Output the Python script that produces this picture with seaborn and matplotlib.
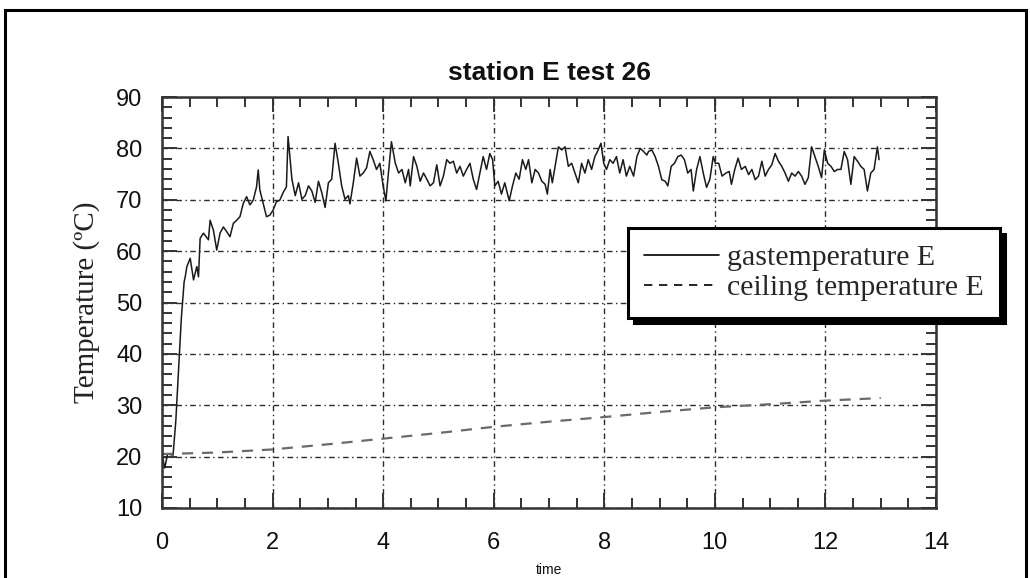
import numpy as np
import pandas as pd
import matplotlib
matplotlib.use("Agg")
import matplotlib.pyplot as plt
from matplotlib.patches import Rectangle
from matplotlib.ticker import MultipleLocator
import seaborn as sns

# Gas temperature at station E (time, degC)
gas_time = [
    0.00, 0.05, 0.10, 0.20, 0.25, 0.30, 0.35, 0.40, 0.42, 0.45, 0.51, 0.57, 0.63, 0.66,
    0.69, 0.75, 0.84, 0.87, 0.93, 0.99, 1.05, 1.11, 1.17, 1.23, 1.29, 1.35, 1.41, 1.47,
    1.53, 1.59, 1.65, 1.71, 1.74, 1.77, 1.83, 1.89, 1.95, 2.01, 2.07, 2.13, 2.20, 2.25,
    2.28, 2.35, 2.41, 2.47, 2.53, 2.59, 2.65, 2.71, 2.77, 2.83, 2.89, 2.95, 3.01, 3.07,
    3.13, 3.19, 3.25, 3.31, 3.37, 3.40, 3.46, 3.52, 3.58, 3.64, 3.70, 3.76, 3.82, 3.88,
    3.94, 4.00, 4.05, 4.09, 4.15, 4.22, 4.28, 4.34, 4.40, 4.46, 4.49, 4.55, 4.61, 4.67,
    4.73, 4.79, 4.85, 4.91, 4.97, 5.03, 5.09, 5.15, 5.21, 5.27, 5.33, 5.39, 5.45, 5.51,
    5.57, 5.63, 5.69, 5.75, 5.81, 5.87, 5.93, 5.98, 6.02, 6.08, 6.14, 6.20, 6.28, 6.34,
    6.40, 6.46, 6.52, 6.58, 6.63, 6.69, 6.75, 6.81, 6.87, 6.93, 6.97, 7.02, 7.06, 7.11,
    7.17, 7.23, 7.29, 7.35, 7.41, 7.47, 7.53, 7.59, 7.65, 7.71, 7.77, 7.83, 7.89, 7.94,
    7.99, 8.04, 8.10, 8.16, 8.22, 8.28, 8.34, 8.40, 8.46, 8.53, 8.59, 8.65, 8.71, 8.77,
    8.80, 8.86, 8.92, 8.98, 9.04, 9.10, 9.15, 9.21, 9.27, 9.33, 9.39, 9.45, 9.51, 9.57,
    9.61, 9.67, 9.73, 9.79, 9.85, 9.91, 9.97, 10.01, 10.07, 10.13, 10.20, 10.26, 10.30,
    10.36, 10.42, 10.48, 10.55, 10.61, 10.67, 10.73, 10.79, 10.85, 10.91, 10.97, 11.03,
    11.09, 11.15, 11.21, 11.27, 11.33, 11.39, 11.45, 11.51, 11.57, 11.63, 11.69, 11.75,
    11.81, 11.87, 11.93, 11.98, 12.04, 12.10, 12.16, 12.22, 12.28, 12.34, 12.40, 12.46,
    12.52, 12.58, 12.64, 12.70, 12.76, 12.82, 12.88, 12.94, 12.97,
]
gas_temp = [
    20.5, 17.8, 20.5, 20.3, 27.0, 37.0, 47.0, 54.0, 55.0, 57.0, 58.6, 54.4, 57.0, 55.0,
    62.5, 63.5, 62.2, 66.0, 64.1, 60.2, 63.5, 64.7, 63.8, 62.8, 65.4, 66.0, 66.7, 69.3,
    70.6, 69.0, 69.9, 72.5, 75.8, 71.9, 69.3, 66.7, 67.0, 68.0, 69.6, 69.9, 71.6, 72.5,
    82.3, 74.0, 70.8, 73.3, 70.1, 70.8, 72.7, 71.7, 69.5, 73.6, 71.4, 68.5, 73.3, 74.0,
    81.0, 77.1, 72.7, 70.1, 70.8, 69.2, 73.3, 78.1, 74.6, 75.2, 76.2, 79.4, 77.8, 75.9,
    77.1, 72.7, 69.8, 74.6, 81.3, 77.1, 75.2, 75.9, 73.3, 75.9, 72.7, 78.4, 76.5, 73.6,
    75.2, 74.0, 72.7, 73.3, 76.8, 72.7, 74.6, 77.8, 77.1, 77.5, 75.2, 76.5, 74.6, 75.9,
    77.1, 74.0, 72.0, 75.2, 78.4, 75.9, 79.0, 77.8, 72.7, 73.6, 71.1, 73.3, 69.8, 72.7,
    75.2, 74.0, 77.8, 75.9, 77.8, 73.3, 75.9, 75.2, 73.6, 73.0, 71.1, 75.9, 73.3, 76.5,
    80.3, 79.7, 80.3, 76.5, 77.1, 75.2, 73.3, 77.1, 75.2, 77.8, 75.9, 78.4, 79.7, 81.0,
    77.1, 75.9, 77.8, 77.1, 78.4, 75.2, 77.8, 74.6, 76.5, 74.6, 78.4, 80.0, 79.4, 78.7,
    79.4, 79.7, 78.4, 76.5, 73.9, 73.6, 72.7, 76.5, 77.1, 78.4, 78.7, 77.8, 75.2, 75.9,
    71.7, 75.9, 78.4, 75.2, 72.4, 74.0, 78.4, 77.1, 77.1, 74.6, 75.2, 75.5, 73.0,
    75.9, 78.1, 75.9, 76.5, 74.9, 75.9, 73.9, 74.6, 77.5, 74.6, 75.9, 76.8,
    79.0, 77.5, 76.5, 75.2, 73.6, 75.2, 74.6, 75.5, 74.6, 73.0, 74.3, 80.3,
    78.4, 76.5, 74.3, 79.7, 77.1, 76.5, 75.5, 75.9, 75.9, 79.4, 77.8, 73.0,
    78.4, 77.5, 76.5, 75.9, 71.7, 75.2, 75.9, 80.3, 77.8,
]

# Ceiling temperature at station E
ceiling_time = [0, 1, 2, 3, 4, 5, 6, 7, 8, 9, 10, 11, 12, 13]
ceiling_temp = [20.5, 20.8, 21.4, 22.4, 23.5, 24.6, 25.8, 26.8, 27.7, 28.7, 29.6, 30.2, 30.9, 31.4]

series_labels = ["gastemperature E", "ceiling temperature E"]
title_text = "station E test 26"
x_label = "time"
y_label = "Temperature (\u00baC)"

sns.set_style("white")
plt.rcParams["font.family"] = ["Liberation Sans", "DejaVu Sans"]

W, H = 1030, 578
fig = plt.figure(figsize=(W / 100, H / 100), dpi=100)
ax = fig.add_axes([162 / W, 1 - 508 / H, (936 - 162) / W, (508 - 97) / H])

gas_df = pd.DataFrame({"time": gas_time, "temp": gas_temp})
ceil_df = pd.DataFrame({"time": ceiling_time, "temp": ceiling_temp})

sns.lineplot(data=gas_df, x="time", y="temp", ax=ax, estimator=None, sort=False,
             color="#1a1a1a", linewidth=1.1, label=series_labels[0])
sns.lineplot(data=ceil_df, x="time", y="temp", ax=ax, estimator=None, sort=False,
             color="#6a6a6a", linewidth=1.6, label=series_labels[1])
ax.lines[-1].set_linestyle((0, (5, 4)))

ax.set_xlim(0, 14)
ax.set_ylim(10, 90)
ax.xaxis.set_major_locator(MultipleLocator(2))
ax.xaxis.set_minor_locator(MultipleLocator(0.5))
ax.yaxis.set_major_locator(MultipleLocator(10))
ax.yaxis.set_minor_locator(MultipleLocator(2))

ax.grid(True, which="major", color="#2a2a2a", linewidth=1.0, linestyle=(0, (4, 2.5, 1, 2.5)))
ax.set_axisbelow(True)

for side in ["left", "right", "top", "bottom"]:
    ax.spines[side].set_visible(True)
    ax.spines[side].set_color("#333333")
    ax.spines[side].set_linewidth(1.8)

ax.tick_params(which="both", direction="in", top=True, right=True, bottom=True, left=True,
               color="#333333", width=1.4)
ax.tick_params(which="major", length=11)
ax.tick_params(which="minor", length=7)
ax.tick_params(axis="x", which="major", labelsize=17, pad=17, labelcolor="#111111")
ax.tick_params(axis="y", which="major", labelsize=17, pad=14, labelcolor="#111111")

ax.set_title(title_text, fontsize=19, fontweight="bold", pad=12, color="#111111")
ax.set_xlabel(x_label, fontsize=10, labelpad=7, color="#111111")
ax.set_ylabel(y_label, fontsize=21, family=["Liberation Serif", "DejaVu Serif"],
              labelpad=12, color="#222222")

leg = ax.legend(loc="upper left", bbox_to_anchor=((628 - 162) / (936 - 162), 1 - (228 - 97) / (508 - 97)),
                prop={"family": ["Liberation Serif", "DejaVu Serif"], "size": 21.5},
                frameon=True, fancybox=False, handlelength=2.5, handletextpad=0.25,
                borderpad=0.55, labelspacing=0.1, borderaxespad=0,
                shadow={"color": "black", "alpha": 1, "ox": 4, "oy": -4})
frame = leg.get_frame()
frame.set_edgecolor("black")
frame.set_linewidth(2.2)
frame.set_facecolor("white")
frame.set_alpha(1)
for h in leg.get_lines():
    h.set_color("black")
    h.set_linewidth(1.2)
leg.set_zorder(10)

# outer frame around the figure
fig.patches.append(Rectangle((5 / W, -0.05), (1026 - 5) / W, 1.05 - 10 / H,
                             transform=fig.transFigure, fill=False,
                             edgecolor="black", linewidth=2.2))

fig.savefig("out.png", dpi=100)
